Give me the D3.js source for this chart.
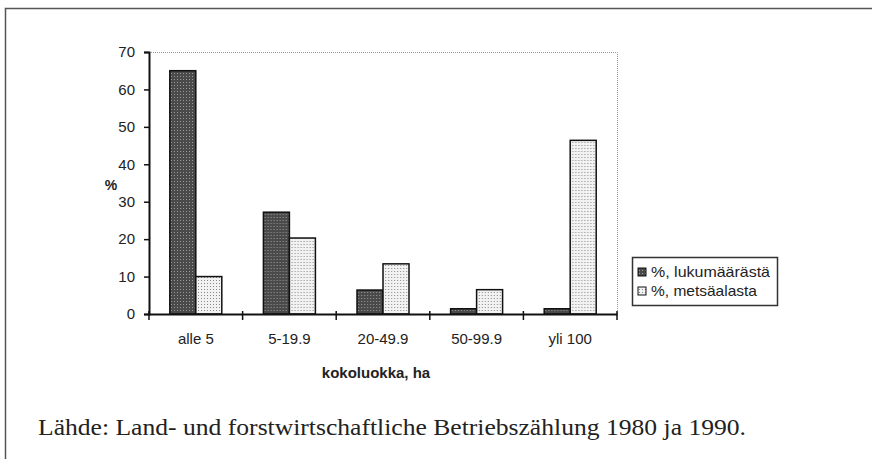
<!DOCTYPE html>
<html>
<head>
<meta charset="utf-8">
<script src="https://cdn.jsdelivr.net/npm/d3@7"></script>
<style>
body{margin:0;background:#fff;}
svg{display:block;}
</style>
</head>
<body>
<div id="chart"></div>
<script>
// tiedot
var categories=["alle 5","5-19.9","20-49.9","50-99.9","yli 100"];
var lukumaara=[65,27.2,6.4,1.4,1.4];
var metsaala=[10,20.3,13.4,6.5,46.4];
var seriesNames=["%, lukumäärästä","%, metsäalasta"];
var yTicks=[0,10,20,30,40,50,60,70];

var width=872,height=459;
var plot={left:149,top:52,right:617,bottom:314};

var svg=d3.select("#chart").append("svg")
    .attr("width",width)
    .attr("height",height);

var defs=svg.append("defs");
// tumma kuvio
var p1=defs.append("pattern").attr("id","dark").attr("patternUnits","userSpaceOnUse")
    .attr("width",3).attr("height",3);
p1.append("rect").attr("width",3).attr("height",3).attr("fill","#4a4a4a");
p1.append("rect").attr("x",1).attr("y",1).attr("width",1).attr("height",1).attr("fill","#9a9a9a");
// vaalea kuvio
var p2=defs.append("pattern").attr("id","light").attr("patternUnits","userSpaceOnUse")
    .attr("width",3).attr("height",3);
p2.append("rect").attr("width",3).attr("height",3).attr("fill","#f2f2f2");
p2.append("rect").attr("x",1).attr("y",1).attr("width",1).attr("height",1).attr("fill","#8a8a8a");

// ulkokehys
svg.append("rect")
    .attr("x",5.5).attr("y",8.5)
    .attr("width",900).attr("height",500)
    .attr("fill","none")
    .attr("stroke","#555")
    .attr("stroke-width",1.5);

var x=d3.scaleBand()
    .domain(categories)
    .range([plot.left,plot.right]);

var y=d3.scaleLinear()
    .domain([0,70])
    .range([plot.bottom,plot.top]);

var barW=26;

// kuva-alueen kehys (pisteviiva)
svg.append("path")
    .attr("d","M"+plot.left+","+(plot.top+0.5)+"H"+(plot.right+0.5)+"V"+plot.bottom)
    .attr("fill","none")
    .attr("stroke","#999")
    .attr("stroke-dasharray","1,1");

var groups=svg.selectAll(".cat")
    .data(categories)
    .enter()
    .append("g")
    .attr("transform",function(d){return "translate("+x(d)+",0)";});

groups.append("rect")
    .attr("x",function(){return x.bandwidth()/2-barW;})
    .attr("y",function(d,i){return y(lukumaara[i]);})
    .attr("width",barW)
    .attr("height",function(d,i){return y(0)-y(lukumaara[i]);})
    .attr("fill","url(#dark)")
    .attr("stroke","#111")
    .attr("stroke-width",1.5);

groups.append("rect")
    .attr("x",x.bandwidth()/2)
    .attr("y",function(d,i){return y(metsaala[i]);})
    .attr("width",barW)
    .attr("height",function(d,i){return y(0)-y(metsaala[i]);})
    .attr("fill","url(#light)")
    .attr("stroke","#111")
    .attr("stroke-width",1.5);

// akselit
var yAxis=svg.append("g")
    .attr("transform","translate("+plot.left+",0)")
    .call(d3.axisLeft(y).tickValues(yTicks).tickSize(5).tickPadding(9));
yAxis.select(".domain").attr("stroke","#111").attr("stroke-width",2);
yAxis.selectAll("line").attr("stroke","#111").attr("stroke-width",1.5);
yAxis.selectAll("text")
    .attr("font-family","Liberation Sans, Arial, sans-serif")
    .attr("font-size","15px")
    .attr("fill","#222");

var xAxis=svg.append("g")
    .attr("transform","translate(0,"+plot.bottom+")")
    .call(d3.axisBottom(x).tickSize(0).tickPadding(19));
xAxis.select(".domain").attr("stroke","#111").attr("stroke-width",2);
xAxis.selectAll("text")
    .attr("font-family","Liberation Sans, Arial, sans-serif")
    .attr("font-size","15px")
    .attr("fill","#222");

// luokkien väliset merkit
var edges=categories.map(function(d){return x(d);}).concat([plot.right]);
svg.selectAll(".edge")
    .data(edges)
    .enter()
    .append("line")
    .attr("x1",function(d){return d;})
    .attr("x2",function(d){return d;})
    .attr("y1",plot.bottom-3)
    .attr("y2",plot.bottom+6)
    .attr("stroke","#111")
    .attr("stroke-width",1.5);

// otsikot
svg.append("text")
    .text("%")
    .attr("x",111).attr("y",190)
    .attr("text-anchor","middle")
    .attr("font-family","Liberation Sans, Arial, sans-serif")
    .attr("font-size","14px")
    .attr("font-weight","bold")
    .attr("fill","#222");

svg.append("text")
    .text("kokoluokka, ha")
    .attr("x",376).attr("y",378)
    .attr("text-anchor","middle")
    .attr("font-family","Liberation Sans, Arial, sans-serif")
    .attr("font-size","15px")
    .attr("font-weight","bold")
    .attr("fill","#222");

// selite
var legend=svg.append("g").attr("transform","translate(632,257)");
legend.append("rect")
    .attr("x",0.5).attr("y",0.5)
    .attr("width",145).attr("height",48)
    .attr("fill","#fff")
    .attr("stroke","#333")
    .attr("stroke-width",1.5);
var items=legend.selectAll(".item")
    .data(seriesNames)
    .enter()
    .append("g")
    .attr("transform",function(d,i){return "translate(6,"+(15+i*19)+")";});
items.append("rect")
    .attr("x",0).attr("y",-4)
    .attr("width",8).attr("height",8)
    .attr("fill",function(d,i){return i==0?"url(#dark)":"url(#light)";})
    .attr("stroke","#111");
items.append("text")
    .text(function(d){return d;})
    .attr("x",13).attr("y",5)
    .attr("font-family","Liberation Sans, Arial, sans-serif")
    .attr("font-size","14.5px")
    .attr("textLength",function(d,i){return i==0?119:106;})
    .attr("lengthAdjust","spacingAndGlyphs")
    .attr("fill","#222");

// lähde
svg.append("text")
    .text("Lähde: Land- und forstwirtschaftliche Betriebszählung 1980 ja 1990.")
    .attr("x",38).attr("y",435)
    .attr("font-family","Liberation Serif, Times New Roman, serif")
    .attr("font-size","23px")
    .attr("textLength",708)
    .attr("lengthAdjust","spacingAndGlyphs")
    .attr("fill","#222");
</script>
</body>
</html>
